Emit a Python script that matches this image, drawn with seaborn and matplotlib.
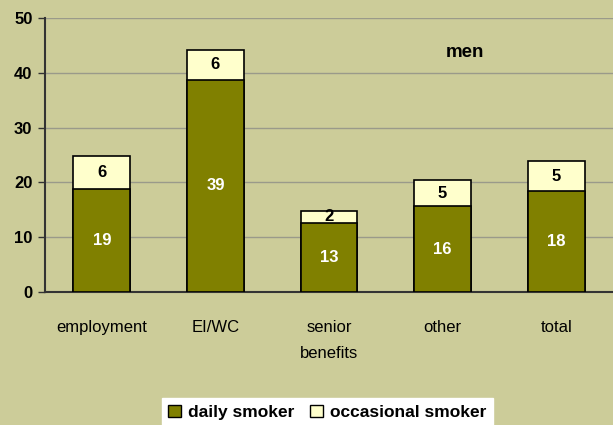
import matplotlib
matplotlib.use("Agg")
import matplotlib.pyplot as plt
import seaborn as sns
import pandas as pd
from matplotlib.patches import Patch

categories = ["employment", "EI/WC", "senior\nbenefits", "other", "total"]
daily = [18.7, 38.7, 12.6, 15.6, 18.4]
occasional = [6.1, 5.5, 2.2, 4.9, 5.4]
yticks = [0, 10, 20, 30, 40, 50]
series_names = ["daily smoker", "occasional smoker"]

bg = "#CCCC99"
olive = "#808000"
cream = "#FFFFCC"

sns.set_theme(style="white")
plt.rcParams['font.family'] = ['Liberation Sans', 'DejaVu Sans']
plt.rcParams['text.color'] = 'black'
plt.rcParams['xtick.color'] = 'black'
plt.rcParams['ytick.color'] = 'black'

df = pd.DataFrame({"cat": categories, "daily": daily, "occ": occasional})
df["tot"] = df["daily"] + df["occ"]

fig = plt.figure(figsize=(6.13, 4.25), dpi=100, facecolor=bg)
ax = fig.add_axes([0.0734, 0.313, 0.9266, 0.645])
ax.set_facecolor(bg)

sns.barplot(data=df, x="cat", y="tot", color=cream, width=0.5, edgecolor="black",
            linewidth=1.2, saturation=1, ax=ax, zorder=3)
sns.barplot(data=df, x="cat", y="daily", color=olive, width=0.5, edgecolor="black",
            linewidth=1.2, saturation=1, ax=ax, zorder=4)

for i, (d, o) in enumerate(zip(daily, occasional)):
    ax.text(i, d / 2, f"{round(d)}", ha="center", va="center", color="white",
            fontsize=12, fontweight="bold", zorder=5)
    ax.text(i, d + o / 2, f"{round(o)}", ha="center", va="center", color="black",
            fontsize=12, fontweight="bold", zorder=5)

ax.set_ylim(0, 50)
ax.set_xlim(-0.5, 4.5)
ax.set_yticks(yticks)
ax.set_yticklabels([str(t) for t in yticks], fontsize=12, fontweight="bold")
ax.yaxis.grid(True, color="#9a9a8a", linewidth=1, zorder=0)
ax.set_axisbelow(True)
ax.set_xlabel("")
ax.set_ylabel("")

ax.set_xticks(range(len(categories)))
ax.set_xticklabels(categories, fontsize=12, linespacing=1.95, va="top")
ax.set_xticks([0.5, 1.5, 2.5, 3.5], minor=True)
ax.tick_params(axis="x", which="major", length=0, pad=20)
ax.tick_params(axis="x", which="minor", length=5, width=1, color="#333333", direction="out")
ax.tick_params(axis="y", length=5, width=1, color="#333333", direction="out", pad=4, left=True)

for s in ["top", "right"]:
    ax.spines[s].set_visible(False)
for s in ["left", "bottom"]:
    ax.spines[s].set_color("#333333")
    ax.spines[s].set_linewidth(1.5)

ax.text(0.74, 0.875, "men", transform=ax.transAxes, fontsize=13.5, fontweight="bold",
        ha="center", va="center")

handles = [Patch(facecolor=olive, edgecolor="black", label=series_names[0]),
           Patch(facecolor=cream, edgecolor="black", label=series_names[1])]
leg = fig.legend(handles=handles, loc="center", bbox_to_anchor=(0.534, 0.03), ncol=2,
                 frameon=True, fancybox=False, framealpha=1, edgecolor="white",
                 handlelength=0.75, handleheight=0.75, handletextpad=0.4, columnspacing=0.9,
                 borderpad=0.35, prop={"weight": "bold", "size": 12.5})
leg.get_frame().set_facecolor("white")

fig.savefig("out.png", dpi=100, facecolor=bg)
